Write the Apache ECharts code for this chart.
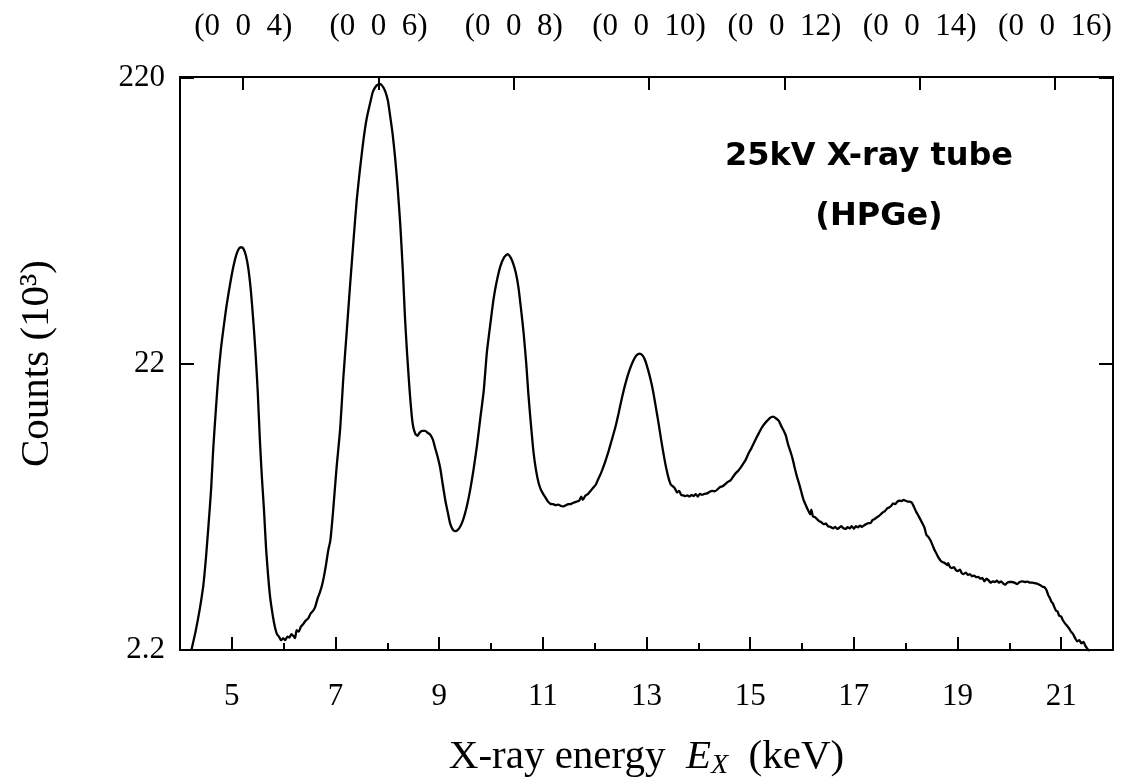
<!DOCTYPE html>
<html>
<head>
<meta charset="utf-8">
<script src="https://cdn.jsdelivr.net/npm/echarts@6/dist/echarts.min.js"></script>
<style>
html,body{margin:0;padding:0;background:#fff;}
#chart{width:1124px;height:782px;}
</style>
</head>
<body>
<div id="chart"></div>
<script>
// X-ray energy (keV)
const energy = [
4.22,4.30,4.38,4.45,4.50,4.55,4.60,4.64,4.69,4.74,4.79,4.84,4.90,4.97,5.03,5.09,5.14,5.18,5.22,5.27,5.32,5.37,5.42,5.46,5.50,5.54,5.58,5.62,5.66,5.70,5.74,5.79,5.83,5.87,5.91,5.95,5.99,6.03,6.07,6.11,6.15,6.19,6.22,6.25,6.29,6.33,6.37,6.42,6.47,6.52,6.57,6.61,6.66,6.70,6.74,6.78,6.82,6.86,6.90,6.95,7.02,7.09,7.15,7.22,7.28,7.35,7.41,7.48,7.54,7.60,7.67,7.72,7.77,7.82,7.86,7.91,7.96,8.01,8.05,8.10,8.15,8.20,8.25,8.30,8.34,8.38,8.43,8.47,8.50,8.54,8.58,8.62,8.67,8.73,8.78,8.83,8.88,8.92,8.97,9.02,9.07,9.12,9.17,9.21,9.26,9.31,9.36,9.41,9.46,9.50,9.55,9.60,9.66,9.73,9.79,9.86,9.92,9.99,10.05,10.11,10.18,10.25,10.32,10.38,10.43,10.48,10.53,10.58,10.63,10.68,10.72,10.77,10.82,10.87,10.92,10.96,11.00,11.05,11.10,11.15,11.20,11.25,11.30,11.35,11.40,11.45,11.50,11.55,11.60,11.65,11.70,11.74,11.77,11.82,11.87,11.92,11.97,12.02,12.07,12.12,12.17,12.22,12.27,12.33,12.40,12.46,12.53,12.60,12.67,12.74,12.80,12.87,12.93,12.98,13.03,13.08,13.13,13.18,13.23,13.28,13.33,13.38,13.43,13.47,13.51,13.55,13.59,13.63,13.67,13.71,13.75,13.79,13.83,13.87,13.91,13.95,13.99,14.03,14.07,14.12,14.17,14.22,14.27,14.32,14.37,14.42,14.47,14.52,14.57,14.62,14.67,14.72,14.77,14.82,14.87,14.92,14.97,15.02,15.07,15.12,15.17,15.22,15.27,15.33,15.38,15.44,15.49,15.55,15.60,15.65,15.69,15.73,15.78,15.82,15.86,15.90,15.95,15.99,16.03,16.08,16.12,16.16,16.18,16.21,16.25,16.29,16.33,16.37,16.42,16.46,16.50,16.55,16.60,16.64,16.68,16.72,16.76,16.80,16.84,16.88,16.92,16.96,17.00,17.04,17.08,17.12,17.16,17.20,17.24,17.28,17.32,17.36,17.40,17.44,17.48,17.52,17.56,17.60,17.64,17.68,17.72,17.76,17.80,17.84,17.88,17.92,17.96,18.00,18.04,18.08,18.12,18.16,18.20,18.24,18.28,18.32,18.36,18.40,18.44,18.48,18.52,18.56,18.60,18.64,18.68,18.72,18.76,18.80,18.82,18.85,18.89,18.93,18.97,19.01,19.05,19.08,19.12,19.16,19.20,19.24,19.28,19.32,19.36,19.40,19.44,19.48,19.52,19.56,19.60,19.64,19.68,19.72,19.76,19.80,19.84,19.88,19.92,19.96,20.00,20.05,20.10,20.15,20.20,20.25,20.30,20.35,20.40,20.45,20.50,20.55,20.60,20.64,20.68,20.72,20.75,20.78,20.81,20.84,20.87,20.90,20.93,20.96,21.00,21.03,21.07,21.11,21.15,21.19,21.23,21.27,21.31,21.35,21.39,21.43,21.47,21.52,21.56
];
// Counts (10^3)
const counts = [
2.2,2.55,3.05,3.7,4.6,6.0,8.0,11.0,15.0,20.0,24.8,29.3,35.2,42,48,53,55.5,56,55.5,52.5,47,39,30,23.5,17.5,12,8.8,6.8,5.0,4.0,3.35,2.9,2.65,2.5,2.45,2.38,2.42,2.38,2.45,2.43,2.50,2.46,2.42,2.58,2.55,2.65,2.70,2.78,2.83,2.95,3.02,3.12,3.35,3.5,3.7,4.0,4.4,4.9,5.3,6.6,9.5,13,19.5,29,41,60,82,108,133,157,179,195,203,207,208,204,196,182,163,140,115,90,67,46,32,24,17.7,14.5,13.2,12.5,12.3,12.6,12.8,12.8,12.6,12.4,11.9,11.2,10.4,9.5,8.3,7.3,6.6,6.1,5.8,5.72,5.78,5.95,6.25,6.6,7.2,8.0,9.3,11.4,14,17.7,24,30.5,37,42.5,48,51.5,53,51.5,49,45.5,40.5,34,28,22,17.3,13.5,10.8,9.3,8.4,8.0,7.75,7.5,7.25,7.12,7.1,7.05,7.08,7.0,6.98,7.05,7.1,7.12,7.2,7.25,7.3,7.55,7.35,7.6,7.7,7.9,8.1,8.3,8.7,9.1,9.6,10.2,10.9,11.9,13.2,14.7,16.8,18.9,20.8,22.4,23.4,23.8,23.4,22.4,20.9,19.3,17.5,15.5,13.7,12.0,10.6,9.5,8.7,8.3,8.2,8.05,7.8,7.9,7.65,7.62,7.58,7.62,7.55,7.65,7.58,7.7,7.55,7.72,7.65,7.72,7.75,7.85,7.9,7.88,8.0,8.15,8.2,8.35,8.5,8.6,8.85,9.1,9.3,9.55,9.85,10.2,10.7,11.1,11.6,12.1,12.6,13.1,13.5,13.9,14.2,14.35,14.2,13.9,13.3,12.8,12.3,11.5,10.8,10.2,9.5,8.9,8.3,7.8,7.35,7.0,6.75,6.55,6.8,6.45,6.4,6.3,6.2,6.15,6.05,6.08,5.95,5.92,5.85,5.92,5.82,5.88,5.95,5.85,5.82,5.9,5.85,5.95,5.83,5.95,5.9,5.98,5.92,6.0,6.05,6.1,6.1,6.25,6.3,6.38,6.45,6.55,6.65,6.72,6.85,6.92,7.0,7.15,7.1,7.25,7.3,7.28,7.35,7.3,7.25,7.25,7.18,6.95,6.7,6.5,6.3,6.1,5.9,5.55,5.45,5.3,5.1,4.9,4.75,4.6,4.5,4.45,4.42,4.35,4.42,4.30,4.25,4.28,4.18,4.15,4.2,4.08,4.05,4.1,4.02,4.05,3.98,4.0,3.95,3.96,3.9,3.93,3.82,3.9,3.85,3.78,3.82,3.8,3.84,3.78,3.82,3.76,3.72,3.78,3.80,3.8,3.78,3.74,3.80,3.82,3.80,3.81,3.78,3.78,3.76,3.74,3.70,3.66,3.64,3.55,3.42,3.35,3.25,3.20,3.10,3.02,3.0,2.9,2.88,2.80,2.73,2.68,2.62,2.55,2.50,2.42,2.36,2.38,2.32,2.35,2.27,2.2,2.12
];
// bottom axis ticks/labels
const majorTicks = [5,7,9,11,13,15,17,19,21];
const minorTicks = [6,8,10,12,14,16,18,20];
// top axis (reflection) positions and labels
const topTicks = [5.22,7.83,10.44,13.05,15.66,18.27,20.88];
const topLabels = ['(0\u20020\u20024)','(0\u20020\u20026)','(0\u20020\u20028)','(0\u20020\u200210)','(0\u20020\u200212)','(0\u20020\u200214)','(0\u20020\u200216)'];
const yTickLabels = ['2.2','22','220'];

const seriesData = energy.map((e, i) => [e, counts[i]]);
const serif = '"Liberation Serif", "DejaVu Serif", serif';
const black = '#000';

const chart = echarts.init(document.getElementById('chart'), null, {renderer: 'canvas'});
const baseX = {
  type: 'value', min: 4, max: 22, gridIndex: 0,
  splitLine: {show: false}
};
chart.setOption({
  animation: false,
  backgroundColor: '#fff',
  grid: {left: 180, right: 11, top: 77, bottom: 132, containLabel: false, outerBoundsMode: 'none'},
  xAxis: [
    Object.assign({}, baseX, {
      position: 'bottom',
      axisLine: {show: true, lineStyle: {color: black, width: 2}},
      axisTick: {show: true, inside: true, length: 13, customValues: majorTicks, lineStyle: {color: black, width: 2}},
      axisLabel: {show: true, customValues: majorTicks, margin: 31, color: black, fontFamily: serif, fontSize: 31},
      name: '{a|X-ray energy\u2002}{i|E}{s|X}{a|\u2002(keV)}',
      nameLocation: 'middle',
      nameGap: 84,
      nameTextStyle: {
        rich: {
          a: {fontFamily: serif, fontSize: 41, color: black},
          i: {fontFamily: serif, fontSize: 41, fontStyle: 'italic', color: black},
          s: {fontFamily: serif, fontSize: 28, fontStyle: 'italic', color: black, padding: [18, 0, 0, 0]}
        }
      }
    }),
    Object.assign({}, baseX, {
      position: 'bottom',
      axisLine: {show: false},
      axisTick: {show: true, inside: true, length: 7, customValues: minorTicks, lineStyle: {color: black, width: 2}},
      axisLabel: {show: false}
    }),
    Object.assign({}, baseX, {
      position: 'top',
      axisLine: {show: true, lineStyle: {color: black, width: 2}},
      axisTick: {show: true, inside: true, length: 13, customValues: topTicks, lineStyle: {color: black, width: 2}},
      axisLabel: {
        show: true, customValues: topTicks, margin: 35, color: black, fontFamily: serif, fontSize: 31,
        formatter: function (v) {
          let best = 0;
          for (let k = 1; k < topTicks.length; k++) {
            if (Math.abs(topTicks[k] - v) < Math.abs(topTicks[best] - v)) best = k;
          }
          return topLabels[best];
        }
      }
    })
  ],
  yAxis: [
    {
      type: 'log', logBase: 10, min: 2.2, max: 220, interval: 1, position: 'left',
      splitLine: {show: false},
      axisLine: {show: true, lineStyle: {color: black, width: 2}},
      axisTick: {show: true, inside: true, length: 14, lineStyle: {color: black, width: 2}},
      axisLabel: {
        show: true, margin: 15, color: black, fontFamily: serif, fontSize: 31,
        formatter: function (v) {
          let best = 0;
          for (let k = 1; k < yTickLabels.length; k++) {
            if (Math.abs(Math.log10(+yTickLabels[k]) - Math.log10(v)) < Math.abs(Math.log10(+yTickLabels[best]) - Math.log10(v))) best = k;
          }
          return yTickLabels[best];
        }
      },
      name: 'Counts (10³)',
      nameLocation: 'middle',
      nameRotate: 90,
      nameGap: 122,
      nameTextStyle: {fontFamily: serif, fontSize: 41, color: black}
    },
    {
      type: 'log', logBase: 10, min: 2.2, max: 220, interval: 1, position: 'right',
      splitLine: {show: false},
      axisLine: {show: true, lineStyle: {color: black, width: 2}},
      axisTick: {show: true, inside: true, length: 14, lineStyle: {color: black, width: 2}},
      axisLabel: {show: false}
    }
  ],
  series: [{
    type: 'line',
    xAxisIndex: 0,
    yAxisIndex: 0,
    data: seriesData,
    showSymbol: false,
    symbol: 'none',
    smooth: 0.2,
    clip: true,
    lineStyle: {color: black, width: 2.3},
    silent: true
  }],
  graphic: [
    {type: 'text', x: 869, y: 157, style: {text: '25kV X-ray tube', align: 'center', verticalAlign: 'middle', font: 'bold 32px "DejaVu Sans"', fill: black}},
    {type: 'text', x: 879, y: 217, style: {text: '(HPGe)', align: 'center', verticalAlign: 'middle', font: 'bold 32px "DejaVu Sans"', fill: black}}
  ]
});
</script>
</body>
</html>
